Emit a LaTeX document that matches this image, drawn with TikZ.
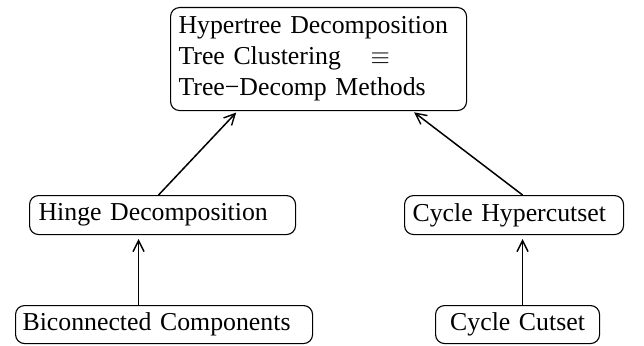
\documentclass[tikz,border=0pt]{standalone}
\usepackage{fontspec}
\setmainfont{Liberation Serif}
\usetikzlibrary{arrows.meta}
\begin{document}
\begin{tikzpicture}[x=1pt,y=-1pt,
  box/.style={draw,rounded corners=9pt,line width=1.1pt,align=left,
    font=\fontsize{25.8}{31}\selectfont,inner ysep=0pt,anchor=north west},
  arr/.style={line width=1.5pt,-{Straight Barb[length=11pt,width=11pt,line width=1.4pt]}}]
\useasboundingbox (0,0) rectangle (644,345);
\node[box,text width=280pt,inner xsep=8pt,minimum height=103pt] (top) at (170,7)
  {Hypertree Decomposition\\\makebox[192pt][l]{Tree Clustering}$\equiv$\\Tree−Decomp Methods};
\node[box,text width=248pt,inner xsep=9pt,minimum height=39pt] (hinge) at (29,195) {Hinge Decomposition};
\node[box,text width=283pt,inner xsep=7pt,minimum height=38pt] (bic) at (15,305) {Biconnected Components};
\node[box,text width=203pt,inner xsep=8pt,minimum height=39pt] (chc) at (404,195) {Cycle Hypercutset};
\node[box,text width=150pt,inner xsep=7pt,minimum height=38pt,align=center] (cc) at (435,305) {Cycle Cutset};
\draw[arr,shorten >=2pt] ([xshift=-4pt]hinge.north) -- ([xshift=-81pt]top.south);
\draw[arr,shorten >=2pt] ([xshift=8.5pt]chc.north) -- ([xshift=94pt]top.south);
\draw[arr,shorten >=4pt] ([xshift=-25.5pt]bic.north) -- ([xshift=-24pt]hinge.south);
\draw[arr,shorten >=4pt] ([xshift=5pt]cc.north) -- ([xshift=8.5pt]chc.south);
\end{tikzpicture}
\end{document}
